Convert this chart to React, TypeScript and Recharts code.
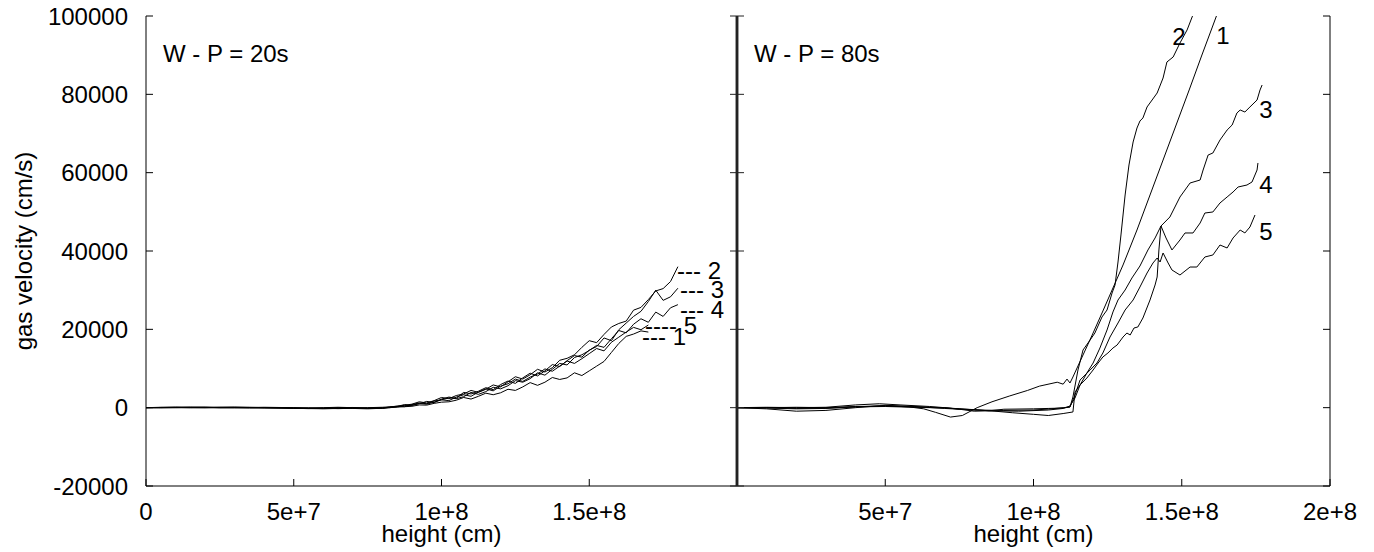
import { LineChart, Line, XAxis, YAxis } from "recharts"

// left panel, W - P = 20s: all five runs share the same heights (cm)
const leftHeights = [
    0, 5e6, 1e7, 1.5e7, 2e7, 2.5e7, 3e7, 3.5e7, 4e7, 4.5e7, 5e7, 5.5e7, 6e7, 6.5e7, 7e7, 7.5e7, 8e7,
    8.25e7, 8.5e7, 8.75e7, 9e7, 9.25e7, 9.5e7, 9.75e7, 1e8,
    1.025e8, 1.05e8, 1.075e8, 1.1e8, 1.125e8, 1.15e8, 1.175e8, 1.2e8,
    1.225e8, 1.25e8, 1.275e8, 1.3e8, 1.325e8, 1.35e8, 1.375e8, 1.4e8,
    1.425e8, 1.45e8, 1.475e8, 1.5e8, 1.525e8, 1.55e8, 1.575e8, 1.6e8,
    1.625e8, 1.65e8, 1.675e8, 1.7e8, 1.725e8, 1.75e8, 1.775e8, 1.8e8,
]
const left1 = [
    0, 50, 100, 150, 100, 0, -50, -100, -50, 0, -150, -250, -200, -100, -200, -300, -150,
    0, 150, 250, 350, 700, 650, 1100, 1400,
    1500, 1900, 2600, 2200, 2900, 3700, 3300, 3800,
    4700, 4400, 5300, 6400, 5700, 6500, 7700, 7200,
    7600, 8900, 8200, 9400, 10600, 11800, 14100, 16400,
    18200, 18800, 19600, 19300, null, null, null, null,
]
const left2 = [
    0, 100, 150, 50, 0, 50, 100, 50, 0, -100, -200, -150, 0, 100, 0, -200, -100,
    200, 400, 600, 900, 1500, 1200, 1800, 2600,
    2300, 3100, 3500, 4400, 3900, 4700, 5800, 5300,
    6600, 7900, 7300, 8400, 9800, 9100, 10200, 12100,
    12600, 13500, 15400, 17100, 16600, 18700, 20600, 21500,
    22100, 24900, 25600, 27600, 29800, 30400, 32200, 36000,
]
const left3 = [
    0, -50, 0, 100, 150, 100, 50, 0, -50, -100, -50, -200, -300, -200, -100, -150, 0,
    0, 300, 800, 600, 1000, 1600, 1300, 2200,
    2700, 2400, 3900, 3500, 4200, 5100, 4600, 5900,
    6800, 6200, 7600, 8800, 8100, 9400, 11000, 10500,
    12000, 13300, 12900, 14700, 15600, 17800, 17100, 19900,
    21600, 23300, 24600, 27100, 30000, 27400, 28300, 30500,
]
const left4 = [
    0, 0, 50, 50, 0, -50, 0, 50, 100, 50, 0, -100, -100, 0, 50, -100, -200,
    100, 200, 500, 600, 1100, 900, 1400, 2000,
    2500, 2300, 2800, 3900, 3400, 4100, 5200, 4800,
    5600, 6900, 6500, 7400, 8900, 8300, 9800, 11300,
    10900, 12800, 13500, 14600, 15900, 15400, 17600, 19700,
    19100, 21300, 22700, 21800, 24400, 23300, 25500, 26300,
]
const left5 = [
    0, 50, 0, -50, 0, 100, 150, 100, 0, -50, -100, -50, -150, -250, -150, 0, 100,
    200, 350, 250, 800, 1200, 1000, 1700, 2000,
    1800, 2700, 3300, 2900, 4000, 4800, 4300, 5500,
    6100, 7300, 6700, 7800, 8600, 9900, 9300, 10600,
    11900, 11300, 12500, 13800, 15100, 14500, 16700, 18000,
    19300, 20500, 19900, 21100, null, null, null, null,
]

// right panel, W - P = 80s: each run has its own sample heights
const right1X = [0, 1e7, 2e7, 3e7, 4e7, 5e7, 5.8e7, 6.3e7, 6.7e7, 7.2e7, 7.6e7, 8.1e7, 8.6e7, 9.2e7, 9.8e7, 1.02e8, 1.08e8, 1.1e8, 1.113e8, 1.123e8, 1.133e8, 1.167e8, 1.201e8, 1.234e8, 1.268e8, 1.302e8, 1.349e8, 1.393e8, 1.437e8, 1.481e8, 1.525e8, 1.568e8, 1.602e8, 1.622e8]
const right1V = [0, -100, -300, -200, 200, 500, 200, -300, -1200, -2400, -2000, 0, 1500, 3000, 4400, 5500, 6500, 6000, 7300, 6300, 7830, 13450, 19060, 24680, 30550, 36430, 45360, 54300, 63230, 72170, 81110, 90040, 96940, 101020]

const right2X = [0, 1e7, 2e7, 3e7, 4e7, 5e7, 6e7, 7e7, 7.5e7, 8e7, 8.5e7, 9e7, 1e8, 1.05e8, 1.1e8, 1.123e8, 1.133e8, 1.15e8, 1.167e8, 1.191e8, 1.207e8, 1.231e8, 1.248e8, 1.265e8, 1.275e8, 1.285e8, 1.295e8, 1.309e8, 1.322e8, 1.336e8, 1.349e8, 1.359e8, 1.369e8, 1.383e8, 1.4e8, 1.417e8, 1.437e8, 1.45e8, 1.471e8, 1.494e8, 1.518e8, 1.535e8, 1.548e8]
const right2V = [0, 0, 100, 0, 300, 400, 200, 0, -400, -900, -800, -400, -300, -200, -100, 170, 2720, 9620, 14720, 17280, 19060, 23150, 24940, 29280, 31320, 37190, 44090, 54300, 61960, 67830, 71400, 73190, 73960, 76770, 78550, 80340, 84170, 88260, 89530, 93110, 96430, 99750, 102040]

const right3X = [0, 1e7, 2e7, 3e7, 4e7, 4.8e7, 5.5e7, 6.5e7, 7.5e7, 8.5e7, 9.5e7, 1.05e8, 1.1e8, 1.123e8, 1.14e8, 1.157e8, 1.18e8, 1.201e8, 1.224e8, 1.248e8, 1.268e8, 1.285e8, 1.309e8, 1.332e8, 1.359e8, 1.386e8, 1.41e8, 1.43e8, 1.46e8, 1.494e8, 1.528e8, 1.562e8, 1.572e8, 1.589e8, 1.605e8, 1.629e8, 1.653e8, 1.67e8, 1.686e8, 1.697e8, 1.713e8, 1.73e8, 1.754e8, 1.764e8, 1.771e8]
const right3V = [0, 100, 0, 100, 700, 1000, 700, 300, -300, -800, -900, -600, -200, 430, 2470, 5790, 8850, 11400, 15230, 19830, 24430, 27490, 30040, 33110, 36170, 40260, 43320, 46380, 48680, 53790, 57360, 58130, 60680, 64510, 65020, 68340, 70890, 72170, 75230, 76000, 75490, 76770, 78550, 81110, 82380]

const right4X = [0, 1e7, 2e7, 3e7, 4e7, 5e7, 6e7, 7e7, 8e7, 8.7e7, 9.3e7, 1e8, 1.05e8, 1.1e8, 1.133e8, 1.14e8, 1.157e8, 1.18e8, 1.201e8, 1.218e8, 1.234e8, 1.251e8, 1.268e8, 1.282e8, 1.302e8, 1.315e8, 1.326e8, 1.339e8, 1.352e8, 1.369e8, 1.393e8, 1.41e8, 1.417e8, 1.423e8, 1.43e8, 1.447e8, 1.467e8, 1.494e8, 1.511e8, 1.538e8, 1.562e8, 1.578e8, 1.605e8, 1.629e8, 1.653e8, 1.673e8, 1.69e8, 1.72e8, 1.737e8, 1.754e8, 1.757e8]
const right4V = [0, 0, -200, -100, 200, 300, 100, -100, -500, -900, -1300, -1700, -2000, -1500, -1100, 4000, 5790, 7570, 9620, 11400, 12940, 13960, 15230, 16000, 18040, 19060, 18550, 20340, 20600, 22890, 27490, 31320, 33360, 40260, 46380, 43320, 40260, 42810, 44600, 44600, 47150, 49700, 49960, 52260, 53790, 55060, 56340, 56850, 57620, 60680, 62470]

const right5X = [0, 1e7, 2e7, 3e7, 4e7, 5e7, 6e7, 7e7, 8e7, 9e7, 1e8, 1.06e8, 1.1e8, 1.123e8, 1.14e8, 1.157e8, 1.191e8, 1.214e8, 1.234e8, 1.258e8, 1.285e8, 1.309e8, 1.336e8, 1.359e8, 1.383e8, 1.403e8, 1.417e8, 1.427e8, 1.437e8, 1.454e8, 1.467e8, 1.494e8, 1.528e8, 1.551e8, 1.578e8, 1.605e8, 1.629e8, 1.653e8, 1.673e8, 1.697e8, 1.713e8, 1.73e8, 1.747e8]
const right5V = [0, -300, -900, -700, 0, 600, 300, -200, -600, -700, -600, -300, 0, 170, 3230, 7060, 9620, 11400, 13960, 18040, 21620, 24940, 27490, 30810, 34380, 36940, 38210, 37190, 39490, 36940, 35150, 33870, 35910, 35910, 38470, 38980, 41530, 40770, 43320, 45360, 44600, 46130, 49190]

const yTicks = [-20000, 0, 20000, 40000, 60000, 80000, 100000]
const leftXTicks = [0, 5e7, 1e8, 1.5e8]
const rightXTicks = [5e7, 1e8, 1.5e8, 2e8]
const topTicks = [5e7, 1e8, 1.5e8]

const FONT = '"Liberation Sans", Arial, Helvetica, sans-serif'
const tickStyle = { fontSize: 24, fill: "#000" }

// gnuplot style: 0, 5e+7, 1e+8 ...
const fmtHeight = (v: number) => (v === 0 ? "0" : v.toExponential())
const noLabel = () => ""

export default function App() {
    const leftSeries = [left1, left2, left3, left4, left5].map((vals) =>
        leftHeights.map((x, i) => ({ x, v: vals[i] })).filter((p) => p.v !== null)
    )
    const rightSeries = [
        [right1X, right1V],
        [right2X, right2V],
        [right3X, right3V],
        [right4X, right4V],
        [right5X, right5V],
    ].map(([xs, vs]) => xs.map((x, i) => ({ x, v: vs[i] })))

    return (
        <div style={{ position: "absolute", left: 0, top: 0, width: 1374, height: 552, background: "#fff", fontFamily: FONT }}>
            {/* left panel */}
            <div style={{ position: "absolute", left: 0, top: 0 }}>
                <LineChart width={747} height={552} margin={{ top: 16, right: 0, bottom: 0, left: 0 }}>
                    <XAxis xAxisId="b" type="number" dataKey="x" domain={[0, 2e8]} allowDataOverflow ticks={leftXTicks} interval={0}
                        tickFormatter={fmtHeight} height={66} tickSize={-7} tickMargin={24} tick={tickStyle} stroke="#000" />
                    <XAxis xAxisId="t" orientation="top" type="number" dataKey="x" domain={[0, 2e8]} allowDataOverflow ticks={topTicks}
                        interval={0} height={0} tickSize={-7} tickFormatter={noLabel} tick={tickStyle} stroke="#000" />
                    <YAxis yAxisId="l" type="number" domain={[-20000, 100000]} allowDataOverflow ticks={yTicks} interval={0}
                        width={146} tickSize={-7} tickMargin={25} tick={tickStyle} stroke="#000" />
                    <YAxis yAxisId="r" orientation="right" type="number" domain={[-20000, 100000]} allowDataOverflow ticks={yTicks}
                        interval={0} width={10} tickSize={-7} tickFormatter={noLabel} tick={tickStyle} stroke="#222"
                        axisLine={{ stroke: "#222", strokeWidth: 2.5 }} />
                    {leftSeries.map((d, i) => (
                        <Line key={i} xAxisId="b" yAxisId="l" data={d} dataKey="v" type="linear" stroke="#000" strokeWidth={1}
                            dot={false} isAnimationActive={false} />
                    ))}
                </LineChart>
            </div>

            {/* right panel */}
            <div style={{ position: "absolute", left: 727, top: 0 }}>
                <LineChart width={643} height={552} margin={{ top: 16, right: 30, bottom: 0, left: 0 }}>
                    <XAxis xAxisId="b" type="number" dataKey="x" domain={[0, 2e8]} allowDataOverflow ticks={rightXTicks} interval={0}
                        tickFormatter={fmtHeight} height={66} tickSize={-7} tickMargin={24} tick={tickStyle} stroke="#000" />
                    <XAxis xAxisId="t" orientation="top" type="number" dataKey="x" domain={[0, 2e8]} allowDataOverflow ticks={topTicks}
                        interval={0} height={0} tickSize={-7} tickFormatter={noLabel} tick={tickStyle} stroke="#000" />
                    <YAxis yAxisId="l" type="number" domain={[-20000, 100000]} allowDataOverflow ticks={yTicks} interval={0}
                        width={10} tickSize={-7} tickFormatter={noLabel} tick={tickStyle} stroke="#222"
                        axisLine={{ stroke: "#222", strokeWidth: 2.5 }} />
                    <YAxis yAxisId="r" orientation="right" type="number" domain={[-20000, 100000]} allowDataOverflow ticks={yTicks}
                        interval={0} width={10} tickSize={-7} tickFormatter={noLabel} tick={tickStyle} stroke="#000" />
                    {rightSeries.map((d, i) => (
                        <Line key={i} xAxisId="b" yAxisId="l" data={d} dataKey="v" type="linear" stroke="#000" strokeWidth={1}
                            dot={false} isAnimationActive={false} />
                    ))}
                </LineChart>
            </div>

            {/* labels */}
            <svg width={1374} height={552} style={{ position: "absolute", left: 0, top: 0, pointerEvents: "none" }}
                fontFamily={FONT} fontSize={24} fill="#000">
                <text transform="translate(32,251) rotate(-90)" textAnchor="middle">gas velocity (cm/s)</text>
                <text x={441.5} y={542} textAnchor="middle">height (cm)</text>
                <text x={1033.5} y={542} textAnchor="middle">height (cm)</text>
                <text x={163} y={62}>W - P = 20s</text>
                <text x={754} y={62}>W - P = 80s</text>

                <text x={677} y={279}>--- 2</text>
                <text x={680} y={298}>--- 3</text>
                <text x={680} y={318}>--- 4</text>
                <text x={645} y={334}>---- 5</text>
                <text x={642} y={345}>--- 1</text>

                <text x={1179} y={45} textAnchor="middle">2</text>
                <text x={1223} y={44} textAnchor="middle">1</text>
                <text x={1266} y={118} textAnchor="middle">3</text>
                <text x={1266} y={193} textAnchor="middle">4</text>
                <text x={1266} y={240} textAnchor="middle">5</text>
            </svg>
        </div>
    )
}
